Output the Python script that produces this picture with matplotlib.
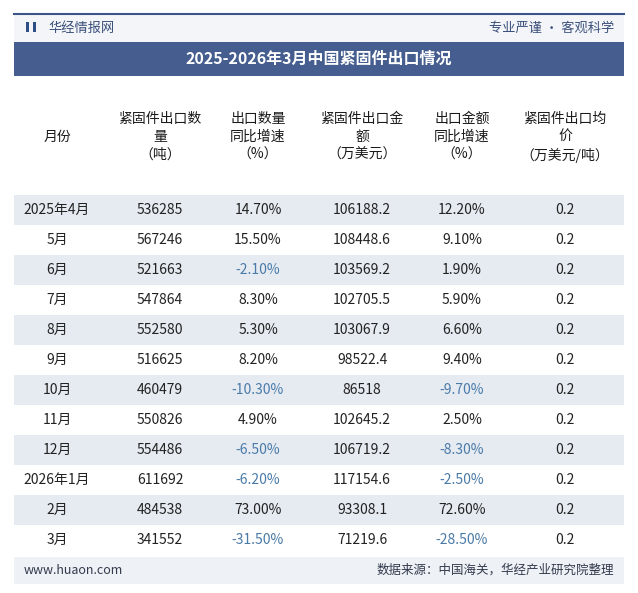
import matplotlib
matplotlib.use("Agg")
import matplotlib.pyplot as plt
from matplotlib.patches import Rectangle

plt.rcParams['font.family'] = ['Noto Sans CJK SC', 'DejaVu Sans']

headers = ["月份", "紧固件出口数\n量\n（吨）", "出口数量\n同比增速\n（%）", "紧固件出口金\n额\n（万美元）", "出口金额\n同比增速\n（%）", "紧固件出口均\n价\n（万美元/吨）"]
months = ["2025年4月", "5月", "6月", "7月", "8月", "9月", "10月", "11月", "12月", "2026年1月", "2月", "3月"]
qty = ["536285", "567246", "521663", "547864", "552580", "516625", "460479", "550826", "554486", "611692", "484538", "341552"]
qty_yoy = ["14.70%", "15.50%", "-2.10%", "8.30%", "5.30%", "8.20%", "-10.30%", "4.90%", "-6.50%", "-6.20%", "73.00%", "-31.50%"]
amount = ["106188.2", "108448.6", "103569.2", "102705.5", "103067.9", "98522.4", "86518", "102645.2", "106719.2", "117154.6", "93308.1", "71219.6"]
amt_yoy = ["12.20%", "9.10%", "1.90%", "5.90%", "6.60%", "9.40%", "-9.70%", "2.50%", "-8.30%", "-2.50%", "72.60%", "-28.50%"]
price = ["0.2"] * 12

W, H = 638, 593
fig = plt.figure(figsize=(W/100, H/100), dpi=100)
ax = fig.add_axes([0, 0, 1, 1])
ax.set_xlim(0, W); ax.set_ylim(H, 0); ax.axis('off')

L, R = 14, 624
ax.add_patch(Rectangle((L, 14), R-L, 28, color='#f3f5f9', lw=0))
ax.plot([L, R], [14, 14], color='#3c5488', lw=1.5)
ax.add_patch(Rectangle((L+12, 22), 3, 10, color='#2f4e86', lw=0))
ax.add_patch(Rectangle((L+19, 22), 3, 10, color='#2f4e86', lw=0))
ax.text(48, 28, "华经情报网", fontsize=9.5, color='#3a4f7a', va='center')
ax.text(R-10, 28, "专业严谨 • 客观科学", fontsize=9.5, color='#3a4f7a', va='center', ha='right')
ax.add_patch(Rectangle((L, 42), R-L, 34, color='#455d8f', lw=0))
ax.text(W/2, 59, "2025-2026年3月中国紧固件出口情况", fontsize=11.5, color='white', fontweight='bold', ha='center', va='center')

xs = [57, 160, 258, 362, 462, 565]
for x, h in zip(xs, headers):
    ax.text(x, 137, h, fontsize=10, color='#1a1a1a', ha='center', va='center', linespacing=1.35, fontweight='medium')

y0, dy = 195, 30
neg = '#4a7aa8'
for i in range(len(months)):
    top = y0 + i*dy
    if i % 2 == 0:
        ax.add_patch(Rectangle((L, top), R-L, dy, color='#e6ebf2', lw=0))
    yc = top + dy/2
    row = [months[i], qty[i], qty_yoy[i], amount[i], amt_yoy[i], price[i]]
    for j, (x, v) in enumerate(zip(xs, row)):
        c = neg if v.startswith('-') else '#222222'
        ax.text(x, yc, v, fontsize=10, color=c, ha='center', va='center')

ax.add_patch(Rectangle((L, 557), R-L, 27, color='#eef1f5', lw=0))
ax.text(24, 570, "www.huaon.com", fontsize=9, color='#333a4d', va='center')
ax.text(R-10, 570, "数据来源：中国海关，华经产业研究院整理", fontsize=9, color='#333a4d', va='center', ha='right')

fig.savefig("out.png", dpi=100)
